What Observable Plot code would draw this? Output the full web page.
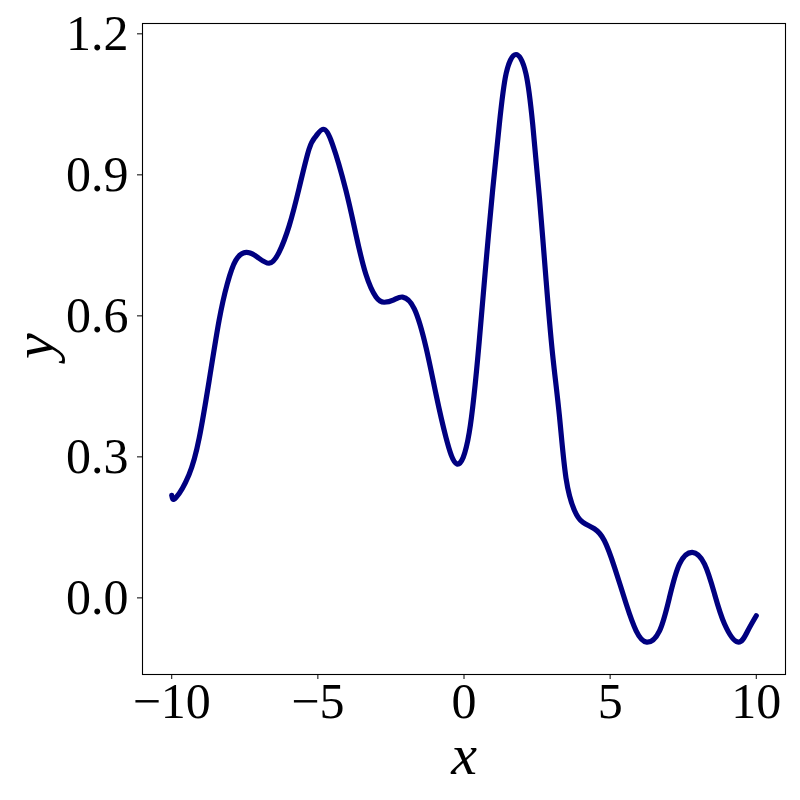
<!DOCTYPE html>
<html>
<head>
<meta charset="utf-8">
<script src="https://cdn.jsdelivr.net/npm/d3@7"></script>
<script src="https://cdn.jsdelivr.net/npm/@observablehq/plot@0.6"></script>
<style>
  html, body { margin: 0; padding: 0; background: #fff; }
  #chart svg { display: block; }
</style>
</head>
<body>
<div id="chart"></div>
<script>
const xs = [-10, -9.86, -9.41, -9.06, -8.72, -8.38, -8.10, -7.81, -7.45, -7.07,
  -6.67, -6.33, -5.98, -5.64, -5.30, -5.07, -4.82, -4.50, -4.04, -3.70, -3.36,
  -3.01, -2.73, -2.40, -2.10, -1.70, -1.30, -0.96, -0.62, -0.24, 0.18,
  0.52, 0.75, 0.98, 1.21, 1.44, 1.78, 2.12, 2.35, 2.58, 2.81,
  3.03, 3.26, 3.49, 3.78, 4.06, 4.46, 4.80, 5.15, 5.55, 5.89,
  6.25, 6.69, 7.03, 7.37, 7.81, 8.23, 8.57, 8.91, 9.37, 9.71, 10];
const ys = [0.218, 0.213, 0.262, 0.34, 0.462, 0.59, 0.668, 0.718, 0.735, 0.725,
  0.712, 0.735, 0.792, 0.872, 0.955, 0.982, 0.997, 0.965, 0.867, 0.774, 0.689,
  0.64, 0.629, 0.634, 0.64, 0.615, 0.533, 0.434, 0.342, 0.285, 0.352,
  0.545, 0.711, 0.867, 1.008, 1.115, 1.156, 1.115, 1.008, 0.852, 0.675,
  0.519, 0.39, 0.255, 0.186, 0.161, 0.147, 0.122, 0.065, -0.013, -0.07,
  -0.094, -0.07, 0.001, 0.072, 0.097, 0.072, 0.009, -0.055, -0.094, -0.07, -0.038];
const xTicks = [-10, -5, 0, 5, 10];
const yTicks = [0.0, 0.3, 0.6, 0.9, 1.2];
const xLabel = ["x"];
const yLabel = ["y"];

const data = xs.map((x, i) => ({x, y: ys[i]}));
const serif = "'Liberation Serif', 'DejaVu Serif', serif";

const chart = Plot.plot({
  width: 800,
  height: 800,
  marginLeft: 142,
  marginRight: 15,
  marginTop: 23,
  marginBottom: 126,
  style: {fontFamily: serif, background: "#fff", color: "#000"},
  x: {domain: [-11, 11]},
  y: {domain: [-0.163, 1.222]},
  marks: [
    Plot.axisX({ticks: xTicks, tickSize: 5, tickPadding: 3, fontSize: 50, label: null,
      tickFormat: d => d < 0 ? "\u2212" + Math.abs(d) : String(d), stroke: "#000", fill: "#000"}),
    Plot.axisY({ticks: yTicks, tickSize: 5, tickPadding: 9, fontSize: 50, label: null,
      tickFormat: d => d.toFixed(1), stroke: "#000", fill: "#000"}),
    Plot.line(data, {x: "x", y: "y", stroke: "#000080", strokeWidth: 5.2, curve: "natural"}),
    Plot.frame({stroke: "#000", strokeWidth: 1.1}),
    Plot.text(xLabel, {text: d => d, frameAnchor: "bottom", lineAnchor: "middle", dy: 81,
      fontSize: 58, fontStyle: "italic", fontFamily: serif, fill: "#000"}),
    Plot.text(yLabel, {text: d => d, frameAnchor: "left", lineAnchor: "middle", dx: -108, dy: 10, rotate: -90,
      fontSize: 58, fontStyle: "italic", fontFamily: serif, fill: "#000"})
  ]
});
document.getElementById("chart").appendChild(chart);
</script>
</body>
</html>
